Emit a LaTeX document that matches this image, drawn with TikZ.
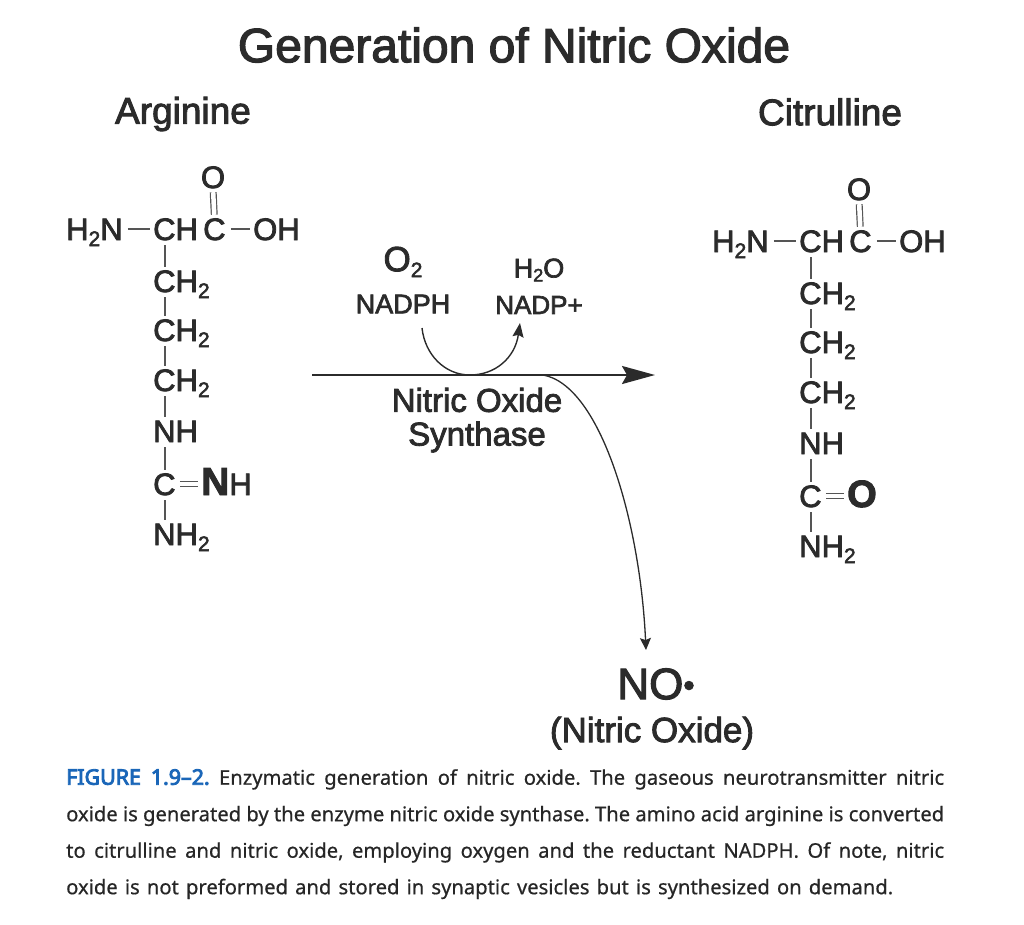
\documentclass[tikz,border=0pt]{standalone}
\usepackage{fontspec}
\setmainfont{Liberation Sans}
\newfontfamily\heavy[FakeBold=2.5]{Liberation Sans}
\newfontfamily\capfont[FakeBold=0.6]{Noto Sans}
\newfontfamily\capbold[FakeBold=4]{Noto Sans}
\usetikzlibrary{arrows.meta}
\definecolor{inkgray}{HTML}{2B2B2B}
\definecolor{figblue}{HTML}{1A66B8}
\newcommand{\fs}[1]{\fontsize{#1}{#1}\selectfont}
\newcommand{\subs}[1]{\raisebox{-6pt}{\fs{21}#1}}
\tikzset{
  lbl/.style={inner sep=0pt, text=inkgray},
  chem/.style={lbl, font=\heavy\fs{31}, anchor=base west, text height=22pt, text depth=0pt},
  bond/.style={draw=inkgray!80, line width=1.3pt, shorten <=5pt, shorten >=3pt},
  dbond/.style={draw=inkgray!80, line width=1.2pt, double, double distance=4.5pt, shorten <=4pt, shorten >=3pt},
}
\begin{document}
\begin{tikzpicture}[x=1pt, y=-1pt]
  \useasboundingbox (0,0) rectangle (1024,924);

  \node[lbl, font=\heavy\fs{48}] (title) at (514,45) {Generation of Nitric Oxide};
  \node[lbl, font=\heavy\fs{37}] (arginine) at (183,114) {Arginine};
  \node[lbl, font=\heavy\fs{37}] (citrulline) at (830,112) {Citrulline};

  % the two amino acids only differ in the last group
  \foreach \mol/\dx/\dy/\tail in {a/0/0/{{\bfseries\fs{39}N}{\fs{31}H}}, c/646/12/{{\bfseries\fs{38}O}}} {
    \begin{scope}[shift={(\dx,\dy)}]
      \node[chem, anchor=base] (\mol o) at (213,188) {O};
      \node[chem] (\mol nh) at (66,240) {H\subs{2}N};
      \node[chem] (\mol ch) at (153,240) {CH};
      \node[chem] (\mol c) at (203,240) {C};
      \node[chem] (\mol oh) at (253,240) {OH};
      \node[chem] (\mol cha) at (153,292) {CH\subs{2}};
      \node[chem] (\mol chb) at (153,341) {CH\subs{2}};
      \node[chem] (\mol chc) at (153,391) {CH\subs{2}};
      \node[chem] (\mol nhb) at (153,442) {NH};
      \node[chem] (\mol g) at (153,495) {C};
      \node[chem] (\mol tail) at (201,495) {\tail};
      \node[chem] (\mol nhc) at (153,545) {NH\subs{2}};

      \draw[bond] (\mol nh) -- (\mol ch);
      \draw[bond] (\mol c) -- (\mol oh);
      \draw[dbond] (\mol o.south) -- (\mol c.north);
      \draw[dbond] (\mol g.east) -- (\mol tail.west);
      \draw[bond] ([xshift=12pt]\mol ch.south west) -- ([xshift=12pt]\mol cha.north west);
      \draw[bond] ([xshift=12pt]\mol cha.south west) -- ([xshift=12pt]\mol chb.north west);
      \draw[bond] ([xshift=12pt]\mol chb.south west) -- ([xshift=12pt]\mol chc.north west);
      \draw[bond] ([xshift=12pt]\mol chc.south west) -- ([xshift=12pt]\mol nhb.north west);
      \draw[bond] ([xshift=12pt]\mol nhb.south west) -- ([xshift=12pt]\mol g.north west);
      \draw[bond] ([xshift=12pt]\mol g.south west) -- ([xshift=12pt]\mol nhc.north west);
    \end{scope}
  }

  \node[lbl, font=\heavy\fs{35}] (otwo) at (403,262) {O\subs{2}};
  \node[lbl, font=\heavy\fs{27}] (nadph) at (403,304) {NADPH};
  \node[lbl, font=\heavy\fs{27}] (water) at (539,270) {H\raisebox{-4pt}{\fs{18}2}O};
  \node[lbl, font=\heavy\fs{26}] (nadp) at (539,305) {NADP+};
  \node[lbl, font=\heavy\fs{33}] (nos) at (477,400) {Nitric Oxide};
  \node[lbl, font=\heavy\fs{33}] (synthase) at (477,437) {Synthase};
  \node[lbl, font=\heavy\fs{44}] (no) at (656,684) {NO\raisebox{3pt}{\fs{32}•}};
  \node[lbl, font=\heavy\fs{35}] (nolabel) at (652,733) {(Nitric Oxide)};

  \coordinate (rxnin) at (312,375);
  \coordinate (rxnout) at (655,375);
  \coordinate (cofin) at (422,328);
  \coordinate (cofmid) at (470,375);
  \coordinate (cofout) at (520,323);
  \coordinate (nostart) at (543,375);
  \coordinate (noend) at (646,650);

  \draw[draw=inkgray, line width=2.2pt, -{Stealth[length=33pt,width=18pt,inset=5pt]}] (rxnin) -- (rxnout);
  \draw[draw=inkgray, line width=1.4pt] (cofin) .. controls (425,355) and (445,375) .. (cofmid);
  \draw[draw=inkgray, line width=1.4pt, -{Stealth[length=14pt,width=11pt,inset=2pt]}] (cofmid) .. controls (495,375) and (515,358) .. (cofout);
  \draw[draw=inkgray, line width=1.3pt, -{Stealth[length=12pt,width=11pt,inset=2pt]}] (nostart) .. controls (600,385) and (640,520) .. (noend);

  \node[inner sep=0pt, anchor=north west, text width=878pt, align=justify, text=black!85,
        font=\capfont\fontsize{20.2}{36.5}\selectfont\frenchspacing] (caption) at (66,769)
    {\textcolor{figblue}{\capbold\fontsize{21.4}{36.5}\selectfont FIGURE 1.9–2.} Enzymatic generation of nitric oxide. The gaseous neurotransmitter nitric\linebreak
     oxide is generated by the enzyme nitric oxide synthase. The amino acid arginine is converted\linebreak
     to citrulline and nitric oxide, employing oxygen and the reductant NADPH. Of note, nitric\linebreak
     \makebox[827pt][s]{oxide is not preformed and stored in synaptic vesicles but is synthesized on demand.}};
\end{tikzpicture}
\end{document}
